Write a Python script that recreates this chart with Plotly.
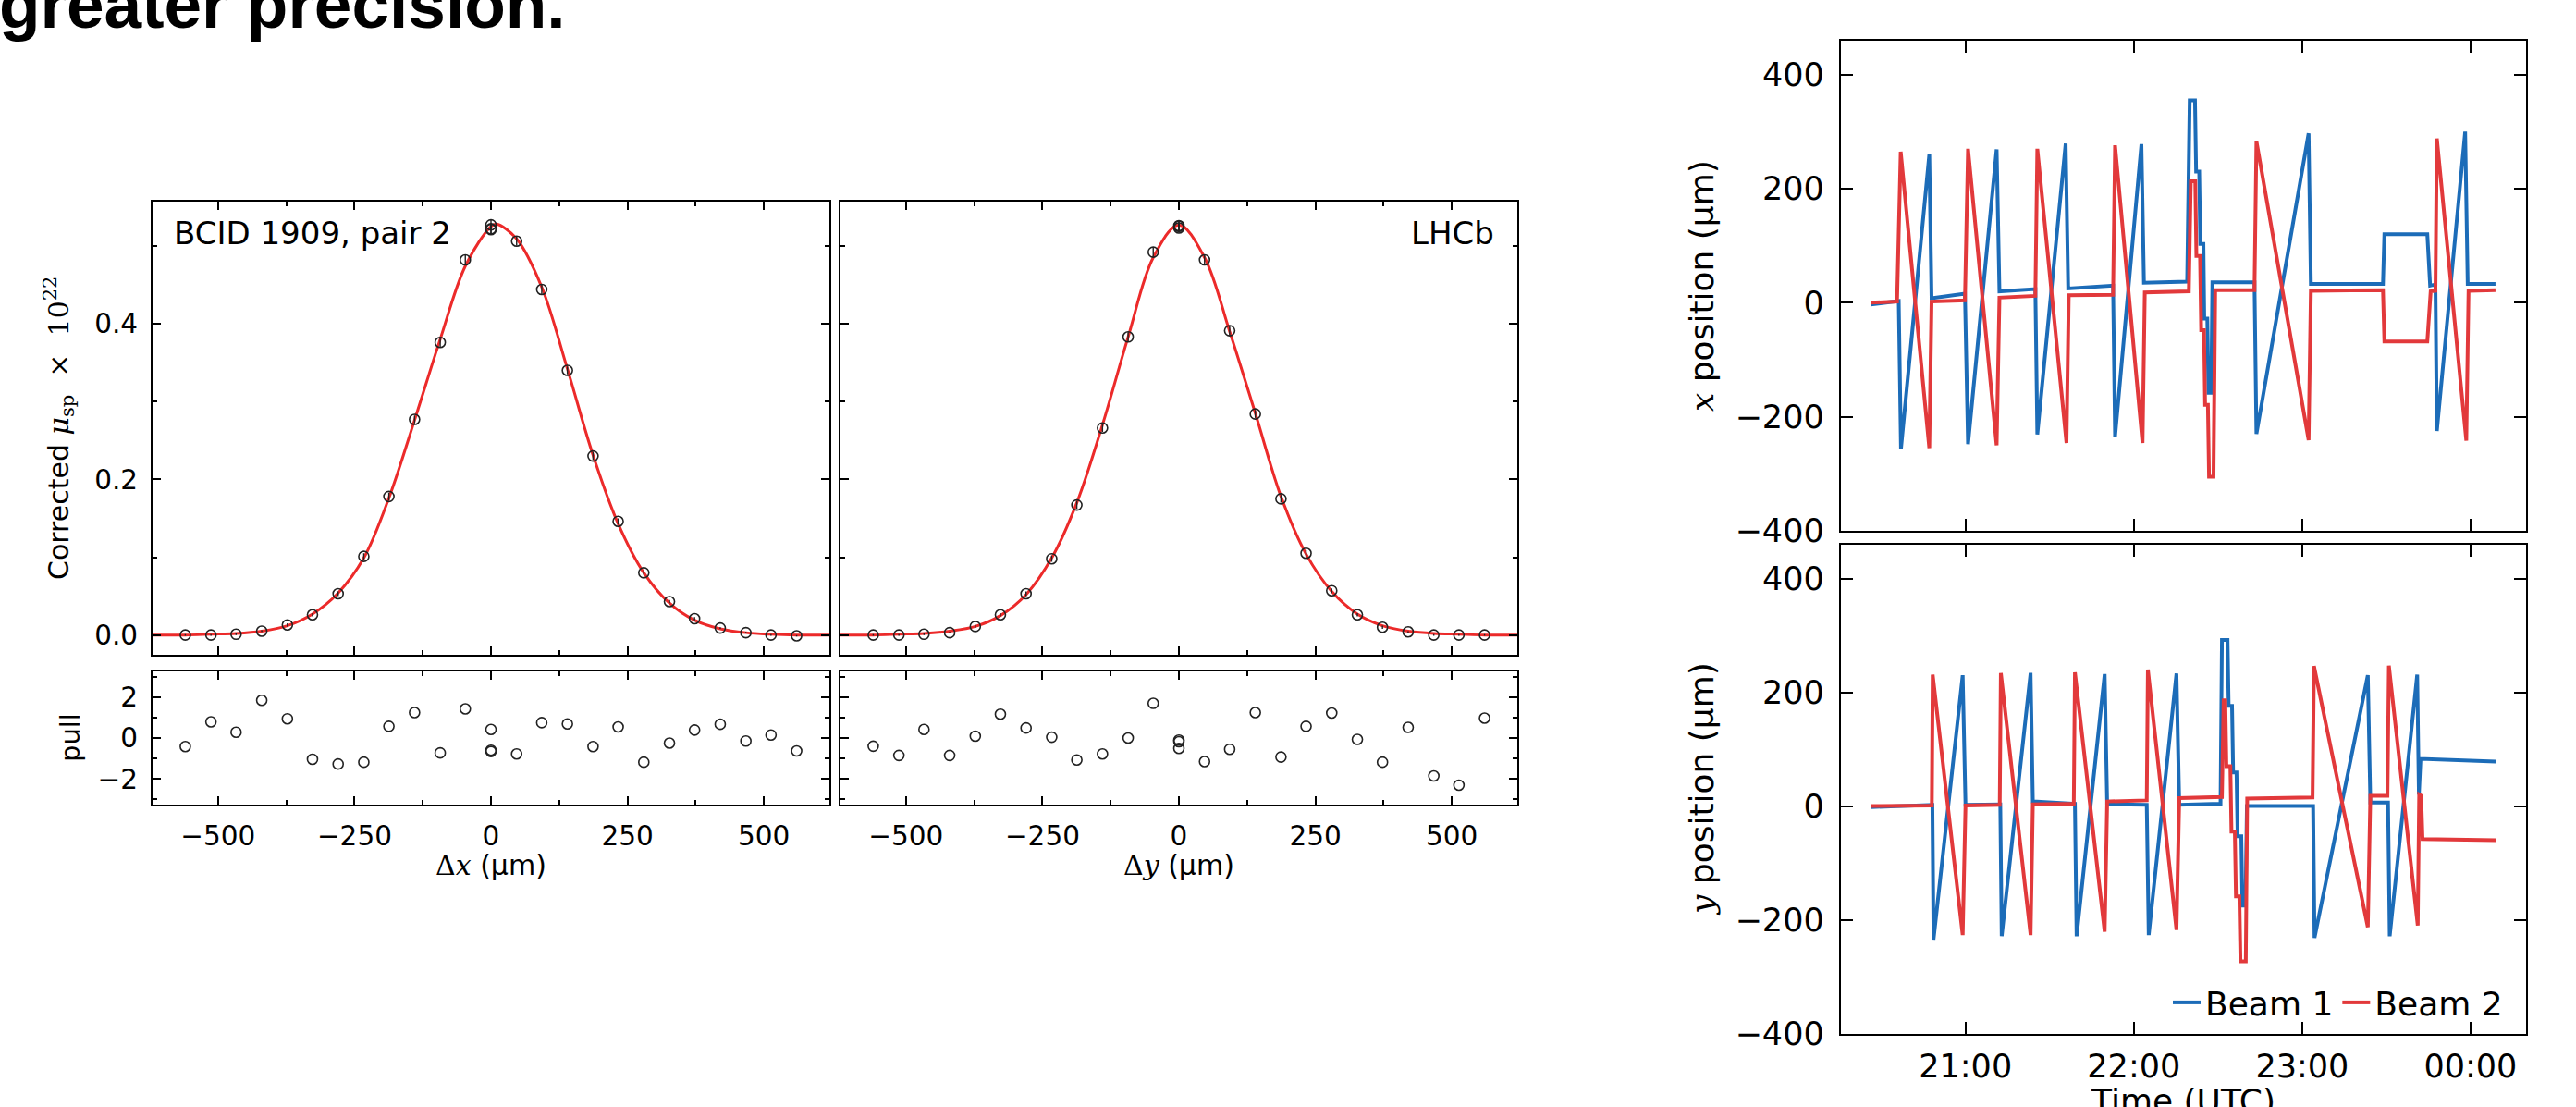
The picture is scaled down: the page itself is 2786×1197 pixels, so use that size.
import pandas as pd
import plotly.graph_objects as go

W, H = 2786, 1197

# ---------------- van der Meer scan: x and y profiles ----------------
scan_pos = [-560, -513, -467, -420, -373, -327, -280, -233, -187, -140, -93, -47,
            0, 0, 0, 47, 93, 140, 187, 233, 280, 327, 373, 420, 467, 513, 560]

mu_x = [0.000, 0.000, 0.001, 0.005, 0.013, 0.026, 0.053, 0.101, 0.178, 0.277, 0.376, 0.482,
        0.527, 0.522, 0.521, 0.506, 0.444, 0.340, 0.230, 0.146, 0.080, 0.043, 0.021, 0.009,
        0.003, 0.000, -0.001]
mu_y = [0.000, 0.000, 0.001, 0.003, 0.011, 0.026, 0.053, 0.098, 0.167, 0.266, 0.383, 0.492,
        0.526, 0.525, 0.523, 0.482, 0.391, 0.284, 0.175, 0.105, 0.057, 0.026, 0.010, 0.004,
        0.000, 0.000, 0.000]
mu_err = [0.001, 0.001, 0.001, 0.001, 0.002, 0.002, 0.003, 0.004, 0.005, 0.005, 0.006, 0.006,
          0.006, 0.006, 0.006, 0.006, 0.006, 0.005, 0.005, 0.004, 0.003, 0.002, 0.002, 0.001,
          0.001, 0.001, 0.001]

pull_x = [-0.42, 0.79, 0.28, 1.84, 0.94, -1.04, -1.27, -1.18, 0.57, 1.24, -0.73, 1.42,
          0.42, -0.60, -0.66, -0.78, 0.75, 0.69, -0.42, 0.54, -1.18, -0.25, 0.39, 0.67,
          -0.15, 0.15, -0.63]
pull_y = [-0.40, -0.85, 0.42, -0.85, 0.09, 1.16, 0.49, 0.04, -1.07, -0.78, 0.00, 1.69,
          -0.10, -0.18, -0.51, -1.15, -0.55, 1.24, -0.93, 0.57, 1.22, -0.07, -1.18, 0.52,
          -1.85, -2.30, 0.97]

# fitted curves, sampled along the scan range
fit_x_pos = [-620, -560, -513, -467, -420, -373, -327, -280, -233, -187, -140, -93, -47,
             0, 10, 47, 93, 140, 187, 233, 280, 327, 373, 420, 467, 513, 560, 620]
fit_x_val = [0, 0, 0.001, 0.002, 0.005, 0.012, 0.027, 0.054, 0.099, 0.176, 0.276, 0.380, 0.474,
             0.525, 0.528, 0.509, 0.447, 0.342, 0.231, 0.143, 0.080, 0.041, 0.019, 0.008,
             0.003, 0.001, 0, 0]
fit_y_pos = [-620, -560, -513, -467, -420, -373, -327, -280, -233, -187, -140, -93, -47,
             0, 47, 93, 140, 187, 233, 280, 327, 373, 420, 467, 513, 560, 620]
fit_y_val = [0, 0, 0.001, 0.002, 0.005, 0.011, 0.025, 0.052, 0.099, 0.170, 0.270, 0.383, 0.485,
             0.527, 0.485, 0.390, 0.285, 0.178, 0.104, 0.056, 0.027, 0.012, 0.005, 0.002,
             0.001, 0, 0]

# ---------------- beam positions during the fill (minutes after 20:00) ----------------
b1x_t = [26.2, 36.2, 37.0, 47.1, 47.9, 59.8, 60.9, 71.1, 72.1, 84.9, 85.6, 95.7, 96.6,
         112.6, 113.3, 122.7, 123.6, 139.0, 139.9, 141.8, 142.2, 143.3, 143.7, 144.8,
         145.1, 146.2, 146.6, 147.6, 148.0, 163.0, 163.7, 182.3, 183.1, 208.8, 209.3,
         224.6, 225.6, 227.5, 228.0, 238.1, 239.0, 248.9]
b1x_v = [-3, 3, -256, 260, 8, 16, -248, 269, 20, 24, -231, 279, 25,
         30, -235, 278, 35, 37, 355, 355, 230, 230, 103, 103,
         -28, -28, -158, -158, 36, 36, -230, 297, 33, 33, 120,
         120, 30, 32, -225, 300, 33, 33]

b2x_t = [26.2, 35.6, 36.9, 47.1, 47.9, 59.8, 60.9, 71.1, 72.1, 84.9, 85.6, 96.0, 96.8,
         112.6, 113.3, 123.1, 123.9, 139.6, 140.3, 141.9, 142.3, 143.6, 144.0, 145.0,
         145.4, 146.4, 146.8, 148.4, 149.0, 163.0, 163.7, 182.3, 183.1, 208.8, 209.3,
         224.6, 225.8, 227.5, 228.0, 238.5, 239.3, 248.9]
b2x_v = [0, 2, 265, -255, 2, 4, 270, -250, 9, 12, 270, -246, 13,
         14, 276, -246, 18, 20, 213, 213, 82, 82, -48, -48,
         -179, -179, -305, -305, 22, 22, 283, -241, 21, 22, -68,
         -68, 20, 21, 288, -242, 21, 22]

b1y_t = [26.2, 48.2, 48.6, 59.0, 60.0, 72.4, 72.9, 83.2, 84.0, 99.0, 99.6, 109.6, 110.5,
         124.6, 125.3, 135.2, 136.2, 150.9, 151.4, 153.4, 153.8, 155.0, 155.4, 156.6,
         157.0, 158.3, 158.7, 159.8, 160.3, 183.9, 184.4, 203.4, 204.3, 210.6, 211.2,
         221.0, 221.6, 222.2, 249.0]
b1y_v = [-2, 2, -235, 230, 2, 3, -229, 234, 8, 4, -229, 232, 3,
         2, -227, 233, 2, 4, 292, 292, 176, 176, 59, 59,
         -53, -53, -175, -175, 0, 0, -232, 230, 6, 6, -229,
         231, 20, 83, 78]

b2y_t = [26.2, 48.0, 48.3, 59.0, 60.0, 72.2, 72.6, 83.2, 84.0, 98.6, 99.0, 109.6, 110.5,
         124.6, 125.0, 135.2, 136.2, 151.4, 152.0, 152.6, 153.0, 154.4, 154.8, 156.0,
         156.4, 157.6, 158.0, 159.9, 160.4, 183.7, 184.2, 203.4, 204.3, 210.4, 210.9,
         221.2, 221.7, 222.4, 222.9, 249.0]
b2y_v = [0, 1, 231, -227, 1, 2, 234, -227, 3, 4, 235, -221, 8,
         10, 240, -218, 14, 16, 186, 186, 70, 70, -45, -45,
         -159, -159, -273, -273, 13, 15, 246, -213, 18, 18, 247,
         -210, 20, 18, -58, -60]

t0 = pd.Timestamp("2000-01-01 20:00")


def clock(minutes):
    return t0 + pd.to_timedelta(minutes, unit="m")


FIT_RED = "#ec2a2a"
B1_BLUE = "#1c6cb8"
B2_RED = "#e2393b"
INK = "#222222"


def px_x(p):
    return p / W


def px_y(p):
    return 1 - p / H


fig = go.Figure()

# ---- profile panels ----
for xa, ya, fx, fy, pos, val, xa_p, ya_p, pulls in [
    ("x", "y", fit_x_pos, fit_x_val, scan_pos, mu_x, "x2", "y2", pull_x),
    ("x3", "y3", fit_y_pos, fit_y_val, scan_pos, mu_y, "x4", "y4", pull_y),
]:
    fig.add_trace(go.Scatter(x=fx, y=fy, xaxis=xa, yaxis=ya, mode="lines",
                             line=dict(color=FIT_RED, width=3, shape="spline"),
                             showlegend=False, hoverinfo="skip"))
    fig.add_trace(go.Scatter(x=pos, y=val, xaxis=xa, yaxis=ya, mode="markers",
                             marker=dict(symbol="circle-open", size=11, color=INK,
                                         line=dict(width=1.6, color=INK)),
                             error_y=dict(type="data", array=mu_err, width=0,
                                          thickness=1.4, color=INK),
                             showlegend=False))
    fig.add_trace(go.Scatter(x=pos, y=pulls, xaxis=xa_p, yaxis=ya_p, mode="markers",
                             marker=dict(symbol="circle-open", size=11, color=INK,
                                         line=dict(width=1.6, color=INK)),
                             showlegend=False))

# ---- beam position panels ----
for xa, ya, tb1, vb1, tb2, vb2, show in [
    ("x5", "y5", b1x_t, b1x_v, b2x_t, b2x_v, False),
    ("x6", "y6", b1y_t, b1y_v, b2y_t, b2y_v, True),
]:
    fig.add_trace(go.Scatter(x=clock(tb1), y=vb1, xaxis=xa, yaxis=ya, mode="lines",
                             line=dict(color=B1_BLUE, width=4), name="Beam 1",
                             legendgroup="b1", showlegend=show))
    fig.add_trace(go.Scatter(x=clock(tb2), y=vb2, xaxis=xa, yaxis=ya, mode="lines",
                             line=dict(color=B2_RED, width=4), name="Beam 2",
                             legendgroup="b2", showlegend=show))


def frame(tick_size, ticklen, **kw):
    d = dict(showline=True, linecolor="black", linewidth=2, mirror="ticks",
             ticks="inside", ticklen=ticklen, tickwidth=2, tickcolor="black",
             showgrid=False, zeroline=False,
             tickfont=dict(family="DejaVu Sans", size=tick_size, color="black"))
    d.update(kw)
    return d


LEFT_X = [165, 897]
MID_X = [909, 1641]
RIGHT_X = [1990.7, 2732]
MAIN_Y = [707.7, 218.3]
PULL_Y = [870, 726]
TOP_Y = [574, 44.3]
BOT_Y = [1117.5, 589.3]


def dom_x(p):
    return [px_x(p[0]), px_x(p[1])]


def dom_y(p):
    return [px_y(p[0]), px_y(p[1])]


minor_x = dict(ticks="inside", ticklen=5, tickwidth=1.5, tickcolor="black", dtick=125, showgrid=False)
minor_mu = dict(ticks="inside", ticklen=5, tickwidth=1.5, tickcolor="black", dtick=0.1, showgrid=False)
minor_pull = dict(ticks="inside", ticklen=5, tickwidth=1.5, tickcolor="black", dtick=1, showgrid=False)

time_range = [clock(15.5), clock(259.8)]

LT = 29.5   # tick labels, profile panels
RT = 35     # tick labels, beam position panels

fig.update_layout(
    width=W, height=H,
    margin=dict(l=0, r=0, t=0, b=0),
    paper_bgcolor="white", plot_bgcolor="white",
    template="none",
    font=dict(family="DejaVu Sans", color="black"),
    xaxis=frame(LT, 9, domain=dom_x(LEFT_X), anchor="y", range=[-620, 620],
                tick0=0, dtick=250, minor=minor_x, showticklabels=False),
    yaxis=frame(LT, 9, domain=dom_y(MAIN_Y), anchor="x", range=[-0.025, 0.5565],
                tick0=0, dtick=0.2, tickformat=".1f", minor=minor_mu, ticklabelstandoff=8),
    xaxis2=frame(LT, 9, domain=dom_x(LEFT_X), anchor="y2", range=[-620, 620],
                 tick0=0, dtick=250, minor=minor_x, ticklabelstandoff=7),
    yaxis2=frame(LT, 9, domain=dom_y(PULL_Y), anchor="x2", range=[-3.25, 3.25],
                 tick0=0, dtick=2, minor=minor_pull, ticklabelstandoff=8),
    xaxis3=frame(LT, 9, domain=dom_x(MID_X), anchor="y3", range=[-620, 620],
                 tick0=0, dtick=250, minor=minor_x, showticklabels=False),
    yaxis3=frame(LT, 9, domain=dom_y(MAIN_Y), anchor="x3", range=[-0.025, 0.5565],
                 tick0=0, dtick=0.2, minor=minor_mu, showticklabels=False),
    xaxis4=frame(LT, 9, domain=dom_x(MID_X), anchor="y4", range=[-620, 620],
                 tick0=0, dtick=250, minor=minor_x, ticklabelstandoff=7),
    yaxis4=frame(LT, 9, domain=dom_y(PULL_Y), anchor="x4", range=[-3.25, 3.25],
                 tick0=0, dtick=2, minor=minor_pull, showticklabels=False),
    xaxis5=frame(RT, 13, domain=dom_x(RIGHT_X), anchor="y5", type="date",
                 range=time_range, tick0=clock(60), dtick=3600000,
                 tickformat="%H:%M", showticklabels=False),
    yaxis5=frame(RT, 13, domain=dom_y(TOP_Y), anchor="x5", range=[-400, 459],
                 tick0=0, dtick=200, ticklabelstandoff=9),
    xaxis6=frame(RT, 13, domain=dom_x(RIGHT_X), anchor="y6", type="date",
                 range=time_range, tick0=clock(60), dtick=3600000,
                 tickformat="%H:%M", ticklabelstandoff=3),
    yaxis6=frame(RT, 13, domain=dom_y(BOT_Y), anchor="x6", range=[-400, 459],
                 tick0=0, dtick=200, ticklabelstandoff=9),
    legend=dict(orientation="h", x=px_x(2712), xanchor="right",
                y=px_y(1084), yanchor="middle",
                bgcolor="rgba(0,0,0,0)", borderwidth=0,
                font=dict(family="DejaVu Sans", size=36, color="black")),
)

SERIF = "font-family:'DejaVu Serif'"
annotations = [
    dict(text="<b>greater precision.</b>", x=px_x(-3), y=px_y(4), xanchor="left", yanchor="middle",
         font=dict(family="Liberation Sans", size=73, color="black"), showarrow=False),
    dict(text="BCID 1909, pair 2", x=px_x(186), y=px_y(252), xanchor="left", yanchor="middle",
         font=dict(size=34), showarrow=False),
    dict(text="LHCb", x=px_x(1618), y=px_y(252), xanchor="right", yanchor="middle",
         font=dict(size=34), showarrow=False),
    dict(text=f"Corrected <span style=\"{SERIF}\"><i>μ</i><sub>sp</sub>  ×  10<sup>22</sup></span>",
         x=px_x(64), y=px_y(463), xanchor="center", yanchor="middle", textangle=-90,
         font=dict(size=30), showarrow=False),
    dict(text="pull", x=px_x(76), y=px_y(798), xanchor="center", yanchor="middle",
         textangle=-90, font=dict(size=29), showarrow=False),
    dict(text=f"<span style=\"{SERIF}\">Δ<i>x</i></span> (μm)", x=px_x(531), y=px_y(935),
         xanchor="center", yanchor="middle", font=dict(size=30), showarrow=False),
    dict(text=f"<span style=\"{SERIF}\">Δ<i>y</i></span> (μm)", x=px_x(1275), y=px_y(935),
         xanchor="center", yanchor="middle", font=dict(size=30), showarrow=False),
    dict(text=f"<span style=\"{SERIF}\"><i>x</i></span> position (μm)", x=px_x(1840),
         y=px_y(309), xanchor="center", yanchor="middle", textangle=-90,
         font=dict(size=36), showarrow=False),
    dict(text=f"<span style=\"{SERIF}\"><i>y</i></span> position (μm)", x=px_x(1840),
         y=px_y(853), xanchor="center", yanchor="middle", textangle=-90,
         font=dict(size=36), showarrow=False),
    dict(text="Time (UTC)", x=px_x(2361), y=px_y(1190), xanchor="center", yanchor="middle",
         font=dict(size=36), showarrow=False),
]
for a in annotations:
    a.update(xref="paper", yref="paper")
    a.setdefault("font", {})
    a["font"].setdefault("color", "black")
    a["font"].setdefault("family", "DejaVu Sans")
fig.update_layout(annotations=annotations)

fig.write_html("out.html")
